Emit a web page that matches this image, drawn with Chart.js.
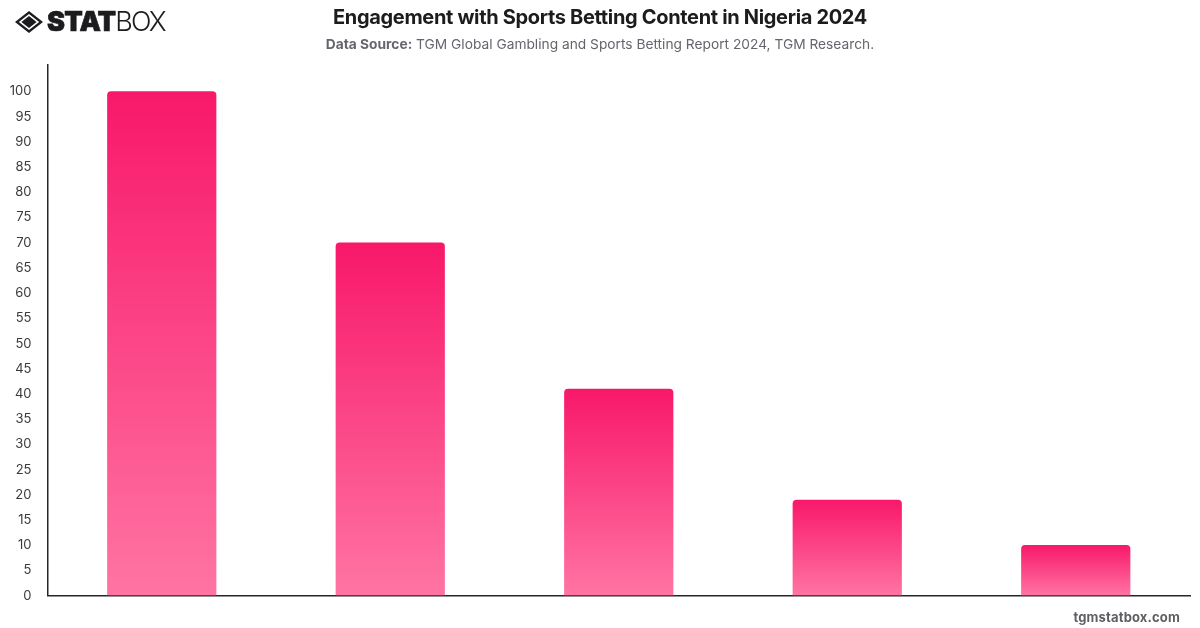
<!DOCTYPE html>
<html>
<head>
<meta charset="utf-8">
<title>Engagement with Sports Betting Content in Nigeria 2024</title>
<script src="https://cdn.jsdelivr.net/npm/chart.js@4"></script>
<style>
  html, body { margin: 0; padding: 0; background: #fff; }
  body { width: 1200px; height: 628px; position: relative; overflow: hidden; font-family: Inter, sans-serif; }
  #chartWrap { position: absolute; left: 0; top: 0; width: 1200px; height: 628px; }
  .title { position: absolute; left: 0; width: 1200px; top: 5px; text-align: center; font-size: 20px; line-height: 24px; font-weight: 700; color: #1c1c1e; letter-spacing: -0.33px; }
  .source { position: absolute; left: 0; width: 1200px; top: 36px; text-align: center; font-size: 13.75px; line-height: 17px; color: #66656d; }
  .source b { font-weight: 700; }
  .site { position: absolute; right: 20px; top: 608px; font-size: 13px; line-height: 18px; font-weight: 700; color: #5f5f63; letter-spacing: 0.15px; }
  .logo { position: absolute; left: 15px; top: 11px; }
  .brand { position: absolute; left: 47px; top: 7px; font-size: 27px; line-height: 30px; color: #1c1c1e; white-space: nowrap; }
  .brand b { font-weight: 900; letter-spacing: -0.8px; -webkit-text-stroke: 0.6px #1c1c1e; }
  .brand span { font-weight: 300; letter-spacing: -2px; }
</style>
</head>
<body>
<div id="chartWrap"><canvas id="engagementChart"></canvas></div>

<svg class="logo" width="28" height="22" viewBox="0 0 28 22">
  <path d="M14 0 L28 11 L14 22 L0 11 Z M14 3 L3.8 11 L14 19 L24.2 11 Z" fill="#1c1c1e" fill-rule="evenodd"/>
  <path d="M14 5 L21.6 11 L14 17 L6.4 11 Z" fill="#1c1c1e"/>
</svg>
<div class="brand"><b>STAT</b><span>BOX</span></div>

<div class="title">Engagement with Sports Betting Content in Nigeria 2024</div>
<div class="source"><b>Data Source:</b> TGM Global Gambling and Sports Betting Report 2024, TGM Research.</div>
<div class="site">tgmstatbox.com</div>

<script>
// category names are not printed under the bars
const categories = ['', ' ', '  ', '   ', '    '];
const engagement = [100, 70, 41, 19, 10];
const axisMax = 105.2;
const lastLabel = 100;
const tickStep = 5;

const gradientTop = '#f8186a';
const gradientBottom = '#ff74a3';
const axisColor = '#26262a';

// each bar gets its own gradient, running from its top to the baseline
function barGradient(context) {
    const chart = context.chart;
    if (!chart.chartArea || context.type !== 'data') return gradientTop;
    const y = chart.scales.y;
    const gradient = chart.ctx.createLinearGradient(0, y.getPixelForValue(context.raw), 0, y.getPixelForValue(0));
    gradient.addColorStop(0, gradientTop);
    gradient.addColorStop(1, gradientBottom);
    return gradient;
}

new Chart('engagementChart', {
    type: 'bar',
    data: {
        labels: categories,
        datasets: [{
            data: engagement,
            backgroundColor: barGradient,
            borderRadius: { topLeft: 4, topRight: 4 },
            borderSkipped: false,
            categoryPercentage: 1,
            barPercentage: 0.478
        }]
    },
    options: {
        responsive: true,
        maintainAspectRatio: false,
        animation: false,
        layout: { padding: { top: 65, right: 10, bottom: 32.5, left: 0 } },
        plugins: {
            legend: { display: false },
            tooltip: { enabled: false }
        },
        scales: {
            x: {
                grid: { display: false, drawTicks: false },
                border: { color: axisColor, width: 1.5 },
                ticks: { display: false }
            },
            y: {
                min: 0,
                max: axisMax,
                afterFit: (scale) => { scale.width = 47.5; },
                grid: { display: false, drawTicks: false },
                border: { color: axisColor, width: 1.5 },
                ticks: {
                    stepSize: tickStep,
                    padding: 16,
                    labelOffset: 0.3,
                    color: '#3a3a3e',
                    font: { family: 'Inter', size: 13 },
                    callback: (value) => (value > lastLabel ? null : value)
                }
            }
        }
    }
});
</script>
</body>
</html>
